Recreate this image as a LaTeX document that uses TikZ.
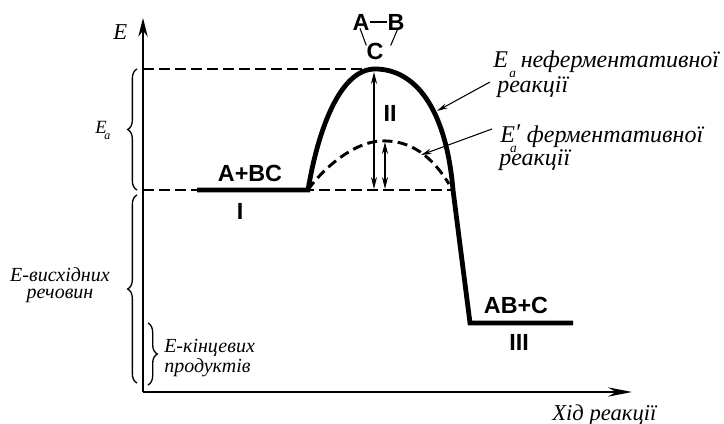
\documentclass[tikz,border=0pt]{standalone}
\usepackage{fontspec}
\setmainfont{Liberation Serif}
\setsansfont{Liberation Sans}
\usetikzlibrary{arrows.meta,decorations.pathreplacing,calc}
\newcommand{\subA}{\raisebox{-0.4em}{\fontsize{10}{10}\selectfont a}}
\begin{document}
\begin{tikzpicture}[x=0.75pt,y=-0.75pt,
  ital/.style={font=\fontsize{17}{17}\selectfont\itshape, inner sep=0pt, anchor=base west},
  rital/.style={font=\fontsize{18}{18}\selectfont\itshape, inner sep=0pt, anchor=base west},
  leftital/.style={font=\fontsize{15}{13}\selectfont\itshape, inner sep=0pt},
  sb/.style={font=\fontsize{17.5}{18}\selectfont\sffamily\bfseries, inner sep=0pt},
  axis/.style={line width=1.6pt},
  dsh/.style={line width=1.1pt, dash pattern=on 8pt off 4pt},
  thickc/.style={line width=3.6pt},
  dthick/.style={line width=2.2pt, dash pattern=on 7.5pt off 4pt},
  dblarr/.style={line width=0.9pt, {Stealth[length=9pt,width=4.5pt]}-{Stealth[length=9pt,width=4.5pt]}},
  ptr/.style={line width=0.8pt, -{Stealth[length=8pt,width=4pt]}},
  brc/.style={decorate, decoration={brace, amplitude=7pt}, line width=1pt},
  thin/.style={line width=0.8pt}
]
\useasboundingbox (0,0) rectangle (724,424);

% coordinates
\coordinate (O) at (143,392);
\coordinate (Yt) at (143,18);
\coordinate (Xt) at (632,392);
\coordinate (TopL) at (143,69);
\coordinate (BotL) at (143,190);
\coordinate (S1) at (197,190);
\coordinate (S2) at (308,190);
\coordinate (Pk) at (375,69);
\coordinate (R1) at (453,190);
\coordinate (B3) at (470,323);
\coordinate (S3) at (573,323);
\coordinate (DPk) at (381,141);
\coordinate (DEnd) at (449,184);

% axes
\draw[axis,-{Stealth[length=14pt,width=7pt]}] (O) -- (Yt);
\draw[axis,-{Stealth[length=18pt,width=7pt]}] (O) -- (Xt);

% dashed levels
\draw[dsh] (TopL) -- (Pk);
\draw[dsh] (BotL) -- (R1);

% energy profiles
\draw[thickc] (S1) -- (S2) .. controls (318,130) and (340,69) .. (Pk)
  .. controls (415,69) and (446,108) .. (R1) -- (B3) -- (S3);
\draw[dthick] (S2) .. controls (320,172) and (352,142) .. (DPk)
  .. controls (405,140) and (428,150) .. (DEnd);

% double arrows
\coordinate (a2t) at (374,72);
\coordinate (a2b) at (374,189);
\draw[dblarr] (a2t) -- (a2b);
\coordinate (a3t) at (385,142);
\coordinate (a3b) at (385,189);
\draw[dblarr] (a3t) -- (a3b);

% bold labels
\node[sb] (ABC) at (250,173) {A+BC};
\node[sb] (n1) at (240,211) {I};
\node[sb] (n2) at (390,113) {II};
\node[sb] (ABpC) at (516,305) {AB+C};
\node[sb] (n3) at (519,342) {III};
\node[sb] (nA) at (361,22) {A};
\node[sb] (nB) at (396,22) {B};
\node[sb] (nC) at (375,51) {C};
\draw[line width=0.9pt] (nA) -- (nB);
\draw[thin] ($(nA.south)+(-1,-2)$) -- ($(nC.north west)+(0,3)$);
\draw[thin] ($(nB.south)+(2,-2)$) -- ($(nC.north east)+(7,3)$);

% right labels
\node[rital] (t1) at (493,68) {E\kern0.06em\subA\kern0.2em неферментативної};
\node[rital] (t1b) at (497,93) {реакції};
\node[rital] (t2) at (500,143) {E\rlap{\raisebox{0.1em}{′}}\kern-0.2em\subA\kern0.42em ферментативної};
\node[rital] (t2b) at (499,166) {реакції};
\coordinate (p1) at (490,82);
\coordinate (p1h) at (437,111);
\draw[ptr] (p1) -- (p1h);
\coordinate (p2) at (492,129);
\coordinate (p2h) at (421,155);
\draw[ptr] (p2) -- (p2h);

% axis labels
\node[ital] (Elab) at (113,40) {E};
\node[ital] (xl) at (552,420) {Хід реакції};

% left braces and labels
\node[ital, font=\fontsize{14}{14}\selectfont\itshape] (Ealab) at (95,134) {E\kern-0.12em\raisebox{-0.3em}{\fontsize{9}{9}\selectfont a}};
\coordinate (bA1) at (137,190);
\coordinate (bA2) at (137,69);
\draw[brc] (bA1) -- (bA2);
\coordinate (bB1) at (137,383);
\coordinate (bB2) at (137,195);
\draw[brc] (bB1) -- (bB2);
\coordinate (bC1) at (148,323);
\coordinate (bC2) at (148,385);
\draw[brc] (bC1) -- (bC2);
\node[leftital, align=center] (ev) at (60,285) {E-висхідних\\речовин};
\node[leftital, align=left, anchor=west] (ek) at (164,358) {E-кінцевих\\продуктів};
\end{tikzpicture}
\end{document}
